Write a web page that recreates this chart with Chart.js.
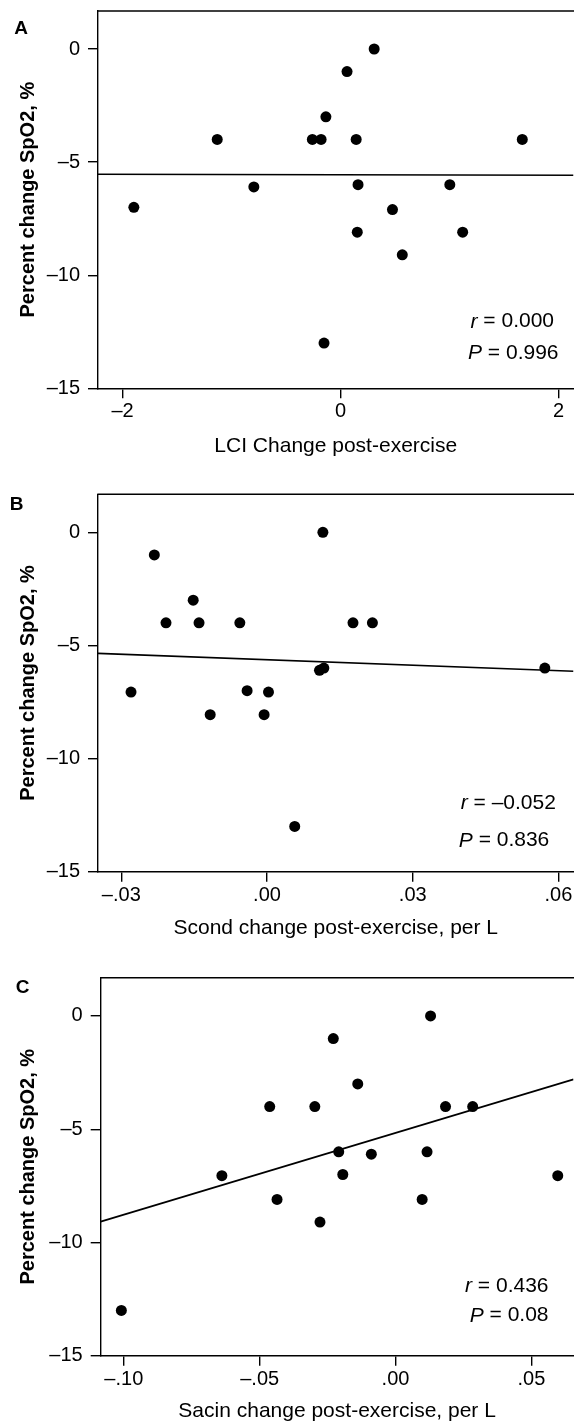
<!DOCTYPE html>
<html>
<head>
<meta charset="utf-8">
<script src="https://cdn.jsdelivr.net/npm/chart.js@4.4.1/dist/chart.umd.min.js"></script>
<style>
  html, body { margin: 0; padding: 0; background: #fff; }
  body { position: relative; width: 574px; height: 1427px; overflow: hidden; }
  /* 오른쪽 5px은 Chart.js 여백으로 빠지므로 캔버스를 조금 넓힘 (잘린 그림 재현) */
  .panel { position: absolute; left: 0; width: 579px; }
  .letter { position: absolute; font: bold 19px "Liberation Sans", Arial, sans-serif; line-height: 1; transform: translate(-50%, -50%); color: #000; }
</style>
</head>
<body>
<div class="panel" style="top:0;height:470px"><canvas id="chartA"></canvas></div>
<div class="panel" style="top:480px;height:470px"><canvas id="chartB"></canvas></div>
<div class="panel" style="top:960px;height:467px"><canvas id="chartC"></canvas></div>
<span class="letter" style="left:21px;top:27px">A</span>
<span class="letter" style="left:16.5px;top:503px">B</span>
<span class="letter" style="left:22.5px;top:986px">C</span>
<script>
// 패널 A : LCI
const lciX = [-1.896, -1.131, -0.795, -0.258, -0.178, -0.134, -0.151, 0.060, 0.309, 0.144, 0.161, 0.154, 0.477, 0.567, 1.003, 1.121, 1.668];
const lciY = [-7.0, -4.0, -6.1, -4.0, -4.0, -3.0, -13.0, -1.0, 0.0, -4.0, -6.0, -8.1, -7.1, -9.1, -6.0, -8.1, -4.0];
const lciFit = [[-2.225, -5.54], [2.138, -5.58]];
const lciTicks = [-2, 0, 2];
const lciTickLabels = ['\u20132', '0', '2'];
const lciStats = ['0.000', '0.996'];

// 패널 B : Scond
const scondX = [-0.0232, -0.0208, -0.0152, -0.0140, -0.0056, 0.0115, 0.0177, 0.0217, 0.0572, 0.0108, 0.0117, -0.0280, -0.0041, 0.0003, -0.0117, -0.0006, 0.0057];
const scondY = [-1.0, -4.0, -3.0, -4.0, -4.0, 0.0, -4.0, -4.0, -6.0, -6.1, -6.0, -7.06, -7.0, -7.06, -8.06, -8.06, -13.0];
const scondFit = [[-0.0348, -5.35], [0.0631, -6.14]];
const scondTicks = [-0.03, 0, 0.03, 0.06];
const scondTickLabels = ['\u2013.03', '.00', '.03', '.06'];
const scondStats = ['\u20130.052', '0.836'];

// 패널 C : Sacin
const sacinX = [-0.0229, 0.0129, -0.0139, -0.0463, -0.0297, 0.0184, 0.0284, -0.0209, -0.0089, 0.0116, -0.0639, -0.0194, 0.0597, -0.0436, 0.0098, -0.0278, -0.1009];
const sacinY = [-1.0, 0.0, -3.0, -4.0, -4.0, -4.0, -4.0, -6.0, -6.1, -6.0, -7.05, -7.0, -7.05, -8.1, -8.1, -9.1, -13.0];
const sacinFit = [[-0.1085, -9.08], [0.0655, -2.80]];
const sacinTicks = [-0.10, -0.05, 0, 0.05];
const sacinTickLabels = ['\u2013.10', '\u2013.05', '.00', '.05'];
const sacinStats = ['0.436', '0.08'];

// 공통 y축
const spo2Ticks = [-15, -10, -5, 0];
const spo2TickLabels = ['\u201315', '\u201310', '\u20135', '0'];

const FONT = '"Liberation Sans", Arial, sans-serif';

// 위쪽 테두리 (오른쪽은 잘려 있음)
const frameTop = {
  id: 'frameTop',
  afterDraw(chart) {
    const { ctx, chartArea: a } = chart;
    ctx.save();
    ctx.strokeStyle = '#000';
    ctx.lineWidth = 1.4;
    ctx.beginPath();
    ctx.moveTo(a.left - 0.7, a.top);
    ctx.lineTo(a.right + 10, a.top);
    ctx.stroke();
    ctx.restore();
  }
};

// r, P 표시
const statsText = {
  id: 'statsText',
  afterDraw(chart, args, opts) {
    const { ctx, chartArea: a } = chart;
    ctx.save();
    ctx.fillStyle = '#000';
    ctx.textBaseline = 'middle';
    opts.lines.forEach(line => {
      ctx.font = 'italic 21px ' + FONT;
      const w1 = ctx.measureText(line.sym).width;
      ctx.font = '21px ' + FONT;
      const rest = ' = ' + line.val;
      const w2 = ctx.measureText(rest).width;
      const x0 = a.right - line.dx - w1 - w2;
      const y = a.bottom - line.dy;
      ctx.font = 'italic 21px ' + FONT;
      ctx.fillText(line.sym, x0, y);
      ctx.font = '21px ' + FONT;
      ctx.fillText(rest, x0 + w1, y);
    });
    ctx.restore();
  }
};

function makeChart(id, cfg) {
  return new Chart(document.getElementById(id), {
    type: 'scatter',
    data: {
      datasets: [
        {
          data: cfg.xs.map((x, i) => ({ x: x, y: cfg.ys[i] })),
          pointRadius: 5.5,
          pointHoverRadius: 5.5,
          pointBackgroundColor: '#000',
          pointBorderWidth: 0
        },
        {
          type: 'line',
          data: cfg.fit.map(p => ({ x: p[0], y: p[1] })),
          borderColor: '#000',
          borderWidth: 1.6,
          pointRadius: 0,
          fill: false,
          tension: 0
        }
      ]
    },
    options: {
      animation: false,
      responsive: true,
      maintainAspectRatio: false,
      layout: { padding: { top: cfg.padTop, left: 0, right: 0, bottom: 0 } },
      plugins: {
        legend: { display: false },
        tooltip: { enabled: false },
        statsText: { lines: cfg.lines }
      },
      scales: {
        x: {
          type: 'linear',
          position: 'bottom',
          min: cfg.xMin,
          max: cfg.xMax,
          afterBuildTicks: s => { s.ticks = cfg.xTicks.map(v => ({ value: v })); },
          afterFit: s => {
            s.height = cfg.xAxisH;
            s.paddingLeft = 0; s.paddingRight = 0; s.paddingTop = 0; s.paddingBottom = 0;
          },
          ticks: {
            autoSkip: false,
            maxRotation: 0,
            padding: 1.5,
            color: '#000',
            font: { size: 20, family: FONT },
            callback: (v, i) => cfg.xLabels[i]
          },
          grid: { drawOnChartArea: false, drawTicks: true, tickLength: 10, color: '#000', lineWidth: 1.4 },
          border: { display: true, color: '#000', width: 1.4 },
          title: {
            display: true,
            text: cfg.xTitle,
            color: '#000',
            font: { size: 21, family: FONT },
            padding: { top: 0, bottom: cfg.xTitlePad }
          }
        },
        y: {
          type: 'linear',
          min: -15,
          max: cfg.yMax,
          afterBuildTicks: s => { s.ticks = spo2Ticks.map(v => ({ value: v })); },
          afterFit: s => {
            s.width = cfg.yAxisW;
            s.paddingLeft = 0; s.paddingRight = 0; s.paddingTop = 0; s.paddingBottom = 0;
          },
          ticks: {
            autoSkip: false,
            padding: 8,
            color: '#000',
            font: { size: 20, family: FONT },
            callback: (v, i) => spo2TickLabels[i]
          },
          grid: { drawOnChartArea: false, drawTicks: true, tickLength: 10, color: '#000', lineWidth: 1.4 },
          border: { display: true, color: '#000', width: 1.4 },
          title: {
            display: true,
            text: 'Percent change SpO2, %',
            color: '#000',
            font: { size: 20, weight: 'bold', family: FONT },
            padding: { top: 16, bottom: 0 }
          }
        }
      }
    },
    plugins: [frameTop, statsText]
  });
}

makeChart('chartA', {
  xs: lciX, ys: lciY, fit: lciFit,
  xMin: -2.225, xMax: 2.138, yMax: 1.68,
  xTicks: lciTicks, xLabels: lciTickLabels,
  xTitle: 'LCI Change post-exercise',
  padTop: 11, xAxisH: 81.7, xTitlePad: 11.4, yAxisW: 98,
  lines: [
    { sym: 'r', val: lciStats[0], dx: 19.5, dy: 66.6 },
    { sym: 'P', val: lciStats[1], dx: 15, dy: 35.3 }
  ]
});

makeChart('chartB', {
  xs: scondX, ys: scondY, fit: scondFit,
  xMin: -0.0348, xMax: 0.0631, yMax: 1.68,
  xTicks: scondTicks, xLabels: scondTickLabels,
  xTitle: 'Scond change post-exercise, per L',
  padTop: 14.3, xAxisH: 78.3, xTitlePad: 9.4, yAxisW: 98,
  lines: [
    { sym: 'r', val: scondStats[0], dx: 17.6, dy: 68.4 },
    { sym: 'P', val: scondStats[1], dx: 24.2, dy: 31 }
  ]
});

makeChart('chartC', {
  xs: sacinX, ys: sacinY, fit: sacinFit,
  xMin: -0.1085, xMax: 0.0655, yMax: 1.69,
  xTicks: sacinTicks, xLabels: sacinTickLabels,
  xTitle: 'Sacin change post-exercise, per L',
  padTop: 17.7, xAxisH: 71.3, xTitlePad: 2.7, yAxisW: 100.7,
  lines: [
    { sym: 'r', val: sacinStats[0], dx: 25, dy: 69.7 },
    { sym: 'P', val: sacinStats[1], dx: 25, dy: 40 }
  ]
});
</script>
</body>
</html>
